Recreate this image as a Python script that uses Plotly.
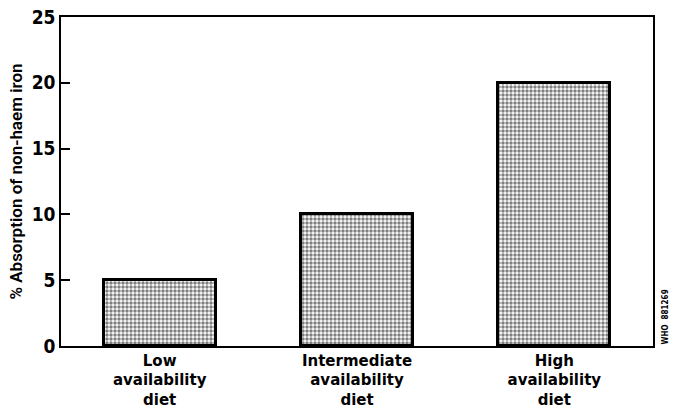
import plotly.graph_objects as go

categories = ["Low<br>availability<br>diet", "Intermediate<br>availability<br>diet", "High<br>availability<br>diet"]
absorption = [5, 10, 20]
y_ticks = [0, 5, 10, 15, 20, 25]

fig = go.Figure()
fig.add_trace(go.Bar(
    x=[0, 1, 2], y=absorption, width=0.566,
    marker=dict(color="white",
                line=dict(color="black", width=3),
                pattern=dict(shape=".", fgcolor="black", bgcolor="white", size=4, solidity=0.6)),
))

fig.update_layout(
    width=673, height=414,
    margin=dict(l=61, r=20, t=17, b=68),
    paper_bgcolor="white", plot_bgcolor="white",
    showlegend=False,
    bargap=0,
    xaxis=dict(range=[-0.5, 2.5], tickmode="array", tickvals=[0, 1, 2], ticktext=categories,
               showgrid=False, zeroline=False, showline=True, linecolor="black", linewidth=1.5,
               mirror=True, ticks="", ticklabelstandoff=0, automargin=False,
               tickfont=dict(family="DejaVu Sans, sans-serif", size=15, color="black", weight="bold")),
    yaxis=dict(range=[0, 25], tickmode="array", tickvals=y_ticks,
               showgrid=False, zeroline=False, showline=True, linecolor="black", linewidth=1.5,
               mirror=True, ticks="inside", ticklen=9, tickwidth=1.5, tickcolor="black",
               automargin=False,
               tickfont=dict(family="DejaVu Sans Condensed, DejaVu Sans, sans-serif", size=19,
                             color="black", weight="bold"),
               title=dict(text="% Absorption of non-haem iron", standoff=5,
                          font=dict(family="Roboto, Liberation Sans, sans-serif", size=17,
                                    color="black", weight=600))),
)
fig.add_annotation(text="<b>WHO  881269</b>", xref="paper", yref="paper", x=1.0, y=0.0,
                   xshift=12, yanchor="bottom", xanchor="center", textangle=-90, showarrow=False,
                   borderpad=0,
                   font=dict(family="DejaVu Sans Condensed, sans-serif", size=8, color="black"))
fig.write_html("out.html", config={"displayModeBar": False},
               post_script="document.body.style.margin='0';")
